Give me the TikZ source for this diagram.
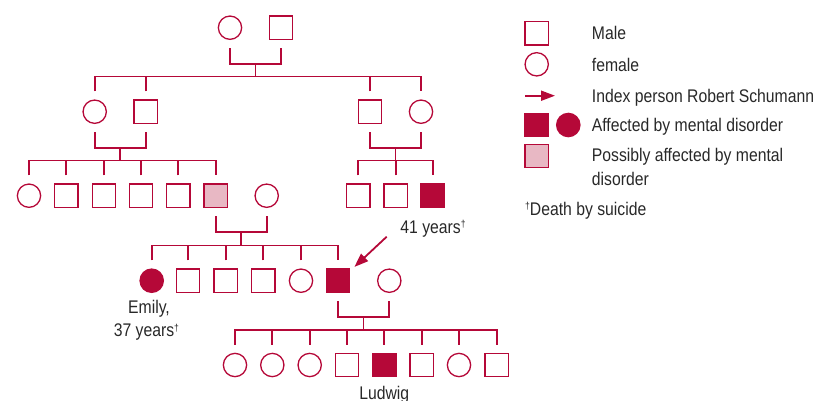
\documentclass[tikz,border=0pt]{standalone}
\usepackage{fontspec}
\setmainfont[FakeStretch=0.86]{Liberation Sans}
\usetikzlibrary{arrows.meta}
\definecolor{crim}{RGB}{181,8,56}
\definecolor{rosy}{RGB}{232,184,196}
\definecolor{txt}{RGB}{40,40,40}
\tikzset{
 person/.style={draw=crim, line width=1.3pt, inner sep=0pt, minimum size=23.3pt},
 male/.style={person, rectangle},
 female/.style={person, circle},
 aff/.style={fill=crim},
 poss/.style={fill=rosy},
 link/.style={draw=crim, line width=1.8pt},
 lbl/.style={text=txt, font=\fontsize{18.3}{22}\selectfont, inner sep=0pt},
 idx/.style={draw=crim, line width=1.8pt, -{Triangle[length=14pt,width=10pt]}}
}
\newcommand\pmarry[3]{\draw[link] ([yshift=-8pt]#1.south) -- ([yshift=-24pt]#1.south) -- ([yshift=-24pt]#2.south) coordinate[pos=0.5] (#3) -- ([yshift=-8pt]#2.south);}
\newcommand\pbar[3]{\coordinate (bar#1) at ([yshift=23pt]#2.north);
 \draw[link] ([yshift=8pt]#2.north) -- ([yshift=23pt]#2.north) -- ([yshift=23pt]#3.north) -- ([yshift=8pt]#3.north);
 \draw[link] (#1) -- (#1 |- bar#1);}
\newcommand\pkid[1]{\draw[link] ([yshift=8pt]#1.north) -- ([yshift=23pt]#1.north);}
\newcommand\dg{\raisebox{0.55ex}{\fontsize{10}{10}\selectfont †}}
\begin{document}
\begin{tikzpicture}[x=1pt,y=-1pt]
\useasboundingbox (0,0) rectangle (817,400);
% generation 1
\node[female] (gA) at (230,27.7) {};
\node[male] (gB) at (281,27.7) {};
% generation 2
\node[female] (lA) at (94.7,111.7) {};
\node[male] (lB) at (145.7,111.7) {};
\node[male] (rA) at (370,111.7) {};
\node[female] (rB) at (421,111.7) {};
% generation 3
\node[female] (k1) at (29,195.7) {};
\node[male] (k2) at (66.3,195.7) {};
\node[male] (k3) at (104,195.7) {};
\node[male] (k4) at (141,195.7) {};
\node[male] (k5) at (178.3,195.7) {};
\node[male,poss] (k6) at (215.7,195.7) {};
\node[female] (wife) at (266.7,195.7) {};
\node[male] (r1) at (358.3,195.7) {};
\node[male] (r2) at (395.7,195.7) {};
\node[male,aff] (r3) at (432.7,195.7) {};
% generation 4
\node[female,aff] (e1) at (151.7,280.7) {};
\node[male] (e2) at (188,280.7) {};
\node[male] (e3) at (225.7,280.7) {};
\node[male] (e4) at (263.3,280.7) {};
\node[female] (e5) at (301,280.7) {};
\node[male,aff] (rob) at (337.8,280.7) {};
\node[female] (clara) at (389.3,280.7) {};
% generation 5
\node[female] (n1) at (235,365) {};
\node[female] (n2) at (272.3,365) {};
\node[female] (n3) at (309.7,365) {};
\node[male] (n4) at (347,365) {};
\node[male,aff] (lud) at (384.3,365) {};
\node[male] (n6) at (421.7,365) {};
\node[female] (n7) at (459,365) {};
\node[male] (n8) at (496.7,365) {};
% connectors
\pmarry{gA}{gB}{m1}
\pbar{m1}{lA}{rB}
\pkid{lB}\pkid{rA}
\pmarry{lA}{lB}{m2}
\pbar{m2}{k1}{k6}
\pkid{k2}\pkid{k3}\pkid{k4}\pkid{k5}
\pmarry{rA}{rB}{m3}
\pbar{m3}{r1}{r3}
\pkid{r2}
\pmarry{k6}{wife}{m4}
\pbar{m4}{e1}{rob}
\pkid{e2}\pkid{e3}\pkid{e4}\pkid{e5}
\pmarry{rob}{clara}{m5}
\pbar{m5}{n1}{n8}
\pkid{n2}\pkid{n3}\pkid{n4}\pkid{lud}\pkid{n6}\pkid{n7}
% index arrow
\coordinate (idxtail) at (386.7,236.7);
\draw[idx] (idxtail) -- ([xshift=4.3pt,yshift=1.5pt]rob.north east);
% labels
\node[lbl,anchor=base] (t41) at (433,233.3) {41 years\dg};
\node[lbl,anchor=base] (tem1) at (149,313.3) {Emily,};
\node[lbl,anchor=base] (tem2) at (146.4,336.7) {37 years\dg};
\node[lbl,anchor=base] (tlud) at (384.3,399.5) {Ludwig};
% legend
\node[male] (lgm) at (536.7,33.3) {};
\node[female] (lgf) at (536.7,64.3) {};
\coordinate (lgaS) at (525,95.7);
\coordinate (lgaE) at (555,95.7);
\draw[idx] (lgaS) -- (lgaE);
\node[male,aff] (lgx) at (536.7,125) {};
\node[female,aff] (lgy) at (568.3,125) {};
\node[male,poss] (lgp) at (536.7,156) {};
\node[lbl,anchor=base west] (lt1) at (591.7,39.3) {Male};
\node[lbl,anchor=base west] (lt2) at (591.7,71) {female};
\node[lbl,anchor=base west] (lt3) at (591.7,102.5) {Index person Robert Schumann};
\node[lbl,anchor=base west] (lt4) at (591.7,131) {Affected by mental disorder};
\node[lbl,anchor=base west] (lt5) at (591.7,161.7) {Possibly affected by mental};
\node[lbl,anchor=base west] (lt6) at (591.7,185) {disorder};
\node[lbl,anchor=base west] (lt7) at (525,215) {\dg Death by suicide};
\end{tikzpicture}
\end{document}
